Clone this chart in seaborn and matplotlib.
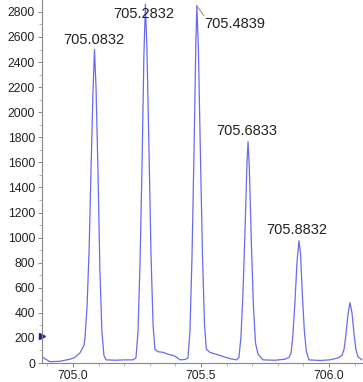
import matplotlib
matplotlib.use("Agg")
import matplotlib.pyplot as plt
from matplotlib.ticker import MultipleLocator
import seaborn as sns
import pandas as pd

mz = [704.879, 704.910, 704.949, 704.988, 705.008, 705.027, 705.043,
      705.047, 705.055, 705.063, 705.070, 705.078, 705.084, 705.090, 705.098, 705.105, 705.113, 705.121, 705.129,
      705.164, 705.203, 705.234,
      705.246, 705.254, 705.262, 705.270, 705.277, 705.283, 705.289, 705.297, 705.305, 705.313, 705.320,
      705.332, 705.352, 705.371, 705.391, 705.402, 705.418, 705.438,
      705.449, 705.457, 705.465, 705.473, 705.480, 705.484, 705.490, 705.498, 705.506, 705.514, 705.521,
      705.535, 705.574, 705.613, 705.637,
      705.648, 705.656, 705.664, 705.672, 705.680, 705.684, 705.689, 705.697, 705.705, 705.713, 705.723, 705.742,
      705.789, 705.828, 705.844,
      705.852, 705.859, 705.867, 705.875, 705.883, 705.889, 705.896, 705.904, 705.912, 705.922,
      705.965, 706.004, 706.035, 706.051,
      706.059, 706.066, 706.074, 706.082, 706.090, 706.098, 706.105, 706.113, 706.129]
intensity = [48, 10, 14, 30, 45, 80, 140,
             200, 450, 900, 1500, 2150, 2500, 2200, 1500, 750, 250, 60, 25,
             22, 25, 25,
             40, 250, 800, 1600, 2450, 2860, 2500, 1700, 850, 300, 110,
             90, 85, 70, 60, 50, 25, 28,
             40, 250, 850, 1700, 2550, 2850, 2500, 1650, 850, 300, 110,
             85, 60, 35, 25,
             40, 200, 550, 1050, 1600, 1765, 1550, 950, 450, 160, 70, 25,
             22, 30, 45,
             80, 220, 480, 800, 975, 870, 550, 250, 90, 25,
             20, 25, 40, 60,
             110, 220, 380, 482, 400, 230, 110, 50, 25]

peak_labels = ["705.0832", "705.2832", "705.4839", "705.6833", "705.8832"]
label_x = [705.080, 705.277, 705.512, 705.678, 705.875]
label_y = [2577, 2784, 2704, 1851, 1061]
label_ha = ["center", "center", "left", "center", "center"]

y_ticks = list(range(0, 2801, 200))
x_ticks = [705.0, 705.5, 706.0]
x_ticklabels = ["705.0", "705.5", "706.0"]

sns.set_style("white")
plt.rcParams['font.family'] = ['Liberation Sans', 'DejaVu Sans']

fig = plt.figure(figsize=(3.63, 3.82), dpi=100)
ax = fig.add_axes([42/363, 1 - 363/382, 1 - 42/363, 363/382])

df = pd.DataFrame({"mz": mz, "intensity": intensity})
sns.lineplot(data=df, x="mz", y="intensity", ax=ax, color="#6a6aee",
             linewidth=0.9, sort=False, estimator=None)

ax.set_xlim(704.879, 706.133)
ax.set_ylim(0, 2895)
ax.set_xlabel("")
ax.set_ylabel("")
ax.set_yticks(y_ticks)
ax.set_yticklabels([str(v) for v in y_ticks])
ax.set_xticks(x_ticks)
ax.set_xticklabels(x_ticklabels)
ax.xaxis.set_minor_locator(MultipleLocator(0.1))
ax.yaxis.set_minor_locator(MultipleLocator(100))

for s in ["top", "right"]:
    ax.spines[s].set_visible(False)
for s in ["left", "bottom"]:
    ax.spines[s].set_color("#888888")
    ax.spines[s].set_linewidth(0.8)

ax.tick_params(axis="both", which="major", direction="out", length=3, width=0.7,
               color="#888888", labelsize=8.8, labelcolor="#222222", pad=2)
ax.tick_params(axis="both", which="minor", direction="out", length=2, width=0.6,
               color="#aaaaaa")
ax.tick_params(axis="both", which="both", left=True, bottom=True)

for txt, lx, ly, ha in zip(peak_labels, label_x, label_y, label_ha):
    ax.text(lx, ly, txt, ha=ha, va="center", fontsize=10.5, color="#222222")

ax.plot([705.484, 705.511], [2848, 2770], color="#777777", linewidth=0.6)
ax.plot([704.879], [217], marker=">", markersize=4, color="#2222aa", clip_on=False)

fig.savefig("out.png", dpi=100)
